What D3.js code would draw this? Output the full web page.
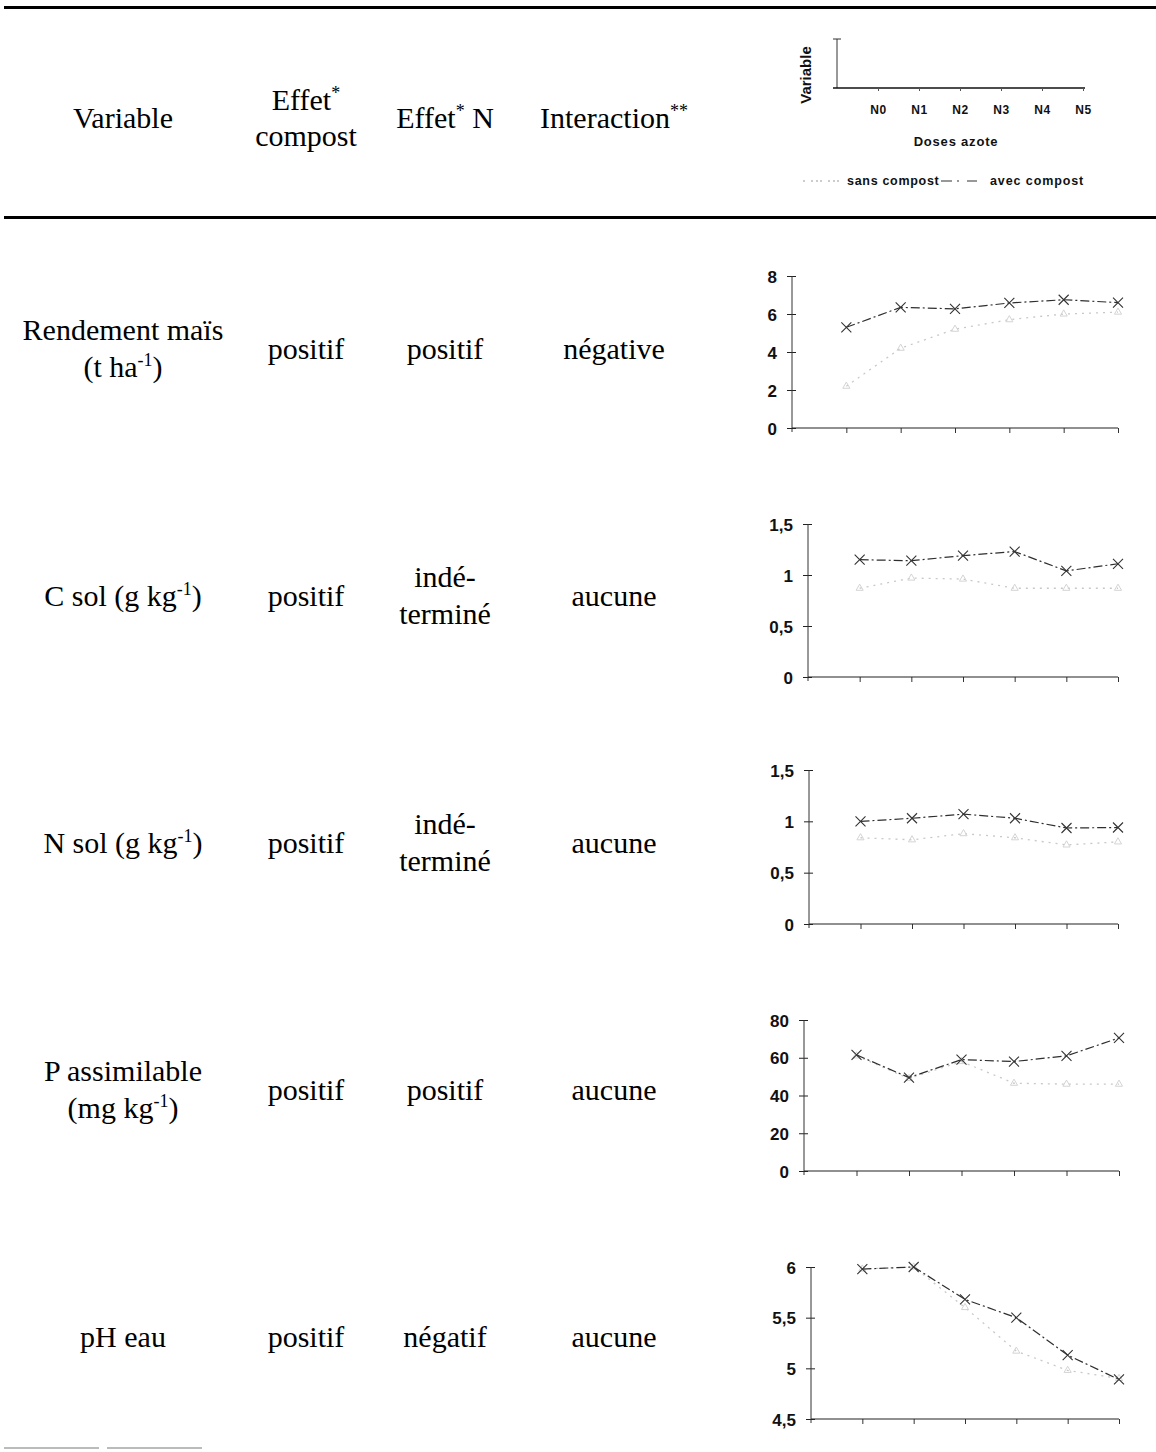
<!DOCTYPE html>
<html>
<head>
<meta charset="utf-8">
<script src="https://cdn.jsdelivr.net/npm/d3@7"></script>
<style>
  html, body { margin: 0; padding: 0; background: #fff; }
  svg { display: block; }
  .serif { font-family: "Liberation Serif", "Times New Roman", serif; fill: #000; }
  .sans { font-family: "Liberation Sans", Arial, sans-serif; font-weight: bold; fill: #111; }
</style>
</head>
<body>
<svg id="chart" width="1156" height="1452"></svg>
<script>
// ---------------- data ----------------
const doses = ["N0", "N1", "N2", "N3", "N4", "N5"];
const headers = ["Variable", "Effet{*}|compost", "Effet{*} N", "Interaction{**}"];
const variables = ["Rendement maïs|(t ha{-1})", "C sol (g kg{-1})", "N sol (g kg{-1})", "P assimilable|(mg kg{-1})", "pH eau"];
const effetCompost = ["positif", "positif", "positif", "positif", "positif"];
const effetN = ["positif", "indé-|terminé", "indé-|terminé", "positif", "négatif"];
const interaction = ["négative", "aucune", "aucune", "aucune", "aucune"];

const avecRendement = [5.3, 6.35, 6.27, 6.58, 6.75, 6.6];
const sansRendement = [2.2, 4.2, 5.2, 5.7, 6.0, 6.1];
const avecCsol = [1.15, 1.14, 1.19, 1.23, 1.04, 1.11];
const sansCsol = [0.87, 0.97, 0.96, 0.87, 0.87, 0.87];
const avecNsol = [1.0, 1.03, 1.07, 1.03, 0.935, 0.94];
const sansNsol = [0.84, 0.82, 0.88, 0.84, 0.77, 0.8];
const avecP = [61.5, 49.5, 59, 58, 61, 70.5];
const sansP = [61, 49, 58, 46.5, 46, 46];
const avecPH = [5.98, 6.0, 5.68, 5.5, 5.13, 4.89];
const sansPH = [5.98, 6.0, 5.6, 5.17, 4.98, 4.9];

const ticksRendement = [0, 2, 4, 6, 8];
const ticksCsol = [0, 0.5, 1, 1.5];
const ticksNsol = [0, 0.5, 1, 1.5];
const ticksP = [0, 20, 40, 60, 80];
const ticksPH = [4.5, 5, 5.5, 6];

const legendLabels = ["sans compost", "avec compost"];
const legendAxisTitle = "Doses azote";
const legendYTitle = "Variable";

// ---------------- layout ----------------
const svg = d3.select("#chart");
svg.append("rect").attr("width", 1156).attr("height", 1452).attr("fill", "#fff");

const colX = [123, 306, 445, 614];
const rowCenters = [350, 597, 844, 1091, 1338];
const FS = 30;
const fmt = v => String(v).replace(".", ",");

function rich(g, str, x, y, size) {
  const t = g.append("text").attr("class", "serif").attr("x", x).attr("y", y)
    .attr("text-anchor", "middle").style("font-size", size + "px");
  const parts = str.split(/(\{[^}]*\})/).filter(p => p.length);
  let shifted = 0;
  parts.forEach(p => {
    if (p.startsWith("{")) {
      t.append("tspan").attr("dy", -size * 0.38).style("font-size", (size * 0.6) + "px").text(p.slice(1, -1));
      shifted = size * 0.38;
    } else {
      const ts = t.append("tspan").text(p);
      if (shifted) { ts.attr("dy", shifted); shifted = 0; }
    }
  });
  return t;
}
function cell(g, str, x, center) {
  const lines = str.split("|");
  if (lines.length === 1) rich(g, lines[0], x, center + 9, FS);
  else { rich(g, lines[0], x, center - 10, FS); rich(g, lines[1], x, center + 27, FS); }
}

// rules
svg.append("line").attr("x1", 4).attr("x2", 1156).attr("y1", 7.5).attr("y2", 7.5).attr("stroke", "#000").attr("stroke-width", 3);
svg.append("line").attr("x1", 4).attr("x2", 1156).attr("y1", 217.5).attr("y2", 217.5).attr("stroke", "#000").attr("stroke-width", 3);
svg.append("line").attr("x1", 4).attr("x2", 210).attr("y1", 1448).attr("y2", 1448).attr("stroke", "#bbb").attr("stroke-width", 2).attr("stroke-dasharray", "95,8");

// header
const hg = svg.append("g");
headers.forEach((h, i) => {
  const lines = h.split("|");
  if (lines.length === 1) rich(hg, lines[0], colX[i], 128, FS);
  else { rich(hg, lines[0], colX[i], 110, FS); rich(hg, lines[1], colX[i], 146, FS); }
});

// rows
const tg = svg.append("g");
variables.forEach((v, i) => {
  cell(tg, v, colX[0], rowCenters[i]);
  cell(tg, effetCompost[i], colX[1], rowCenters[i]);
  cell(tg, effetN[i], colX[2], rowCenters[i]);
  cell(tg, interaction[i], colX[3], rowCenters[i]);
});

// ---------------- small charts ----------------
const AVEC_COL = "#2e2e2e", SANS_COL = "#c8c8c8";
const xMarker = "M-5,-5L5,5M-5,5L5,-5";
const triMarker = d3.symbol().type(d3.symbolTriangle).size(22)();

function drawChart(L, avec, sans, ticks) {
  const g = svg.append("g");
  const x = d3.scalePoint().domain(["", ...doses]).range([L.x0, L.x1]);
  const y = d3.scaleLinear().domain([ticks[0], ticks[ticks.length - 1]]).range([L.yb, L.yt]);

  const yAx = g.append("g").attr("transform", `translate(${L.x0},0)`)
    .call(d3.axisLeft(y).tickValues(ticks).tickSize(5).tickFormat(fmt));
  yAx.select(".domain").remove();
  yAx.selectAll(".tick line").attr("x1", 4).attr("x2", -5).attr("stroke", "#222");
  yAx.selectAll(".tick text").attr("x", -15).attr("class", "sans").style("font-size", "17px").attr("dy", "0.36em");
  g.append("line").attr("x1", L.x0).attr("x2", L.x0).attr("y1", L.yt).attr("y2", L.yb + 4)
    .attr("stroke", "#333").attr("stroke-width", 1);

  const xAx = g.append("g").attr("transform", `translate(0,${L.yb})`)
    .call(d3.axisBottom(x).tickValues(doses).tickSize(5).tickFormat(""));
  xAx.select(".domain").remove();
  xAx.selectAll(".tick line").attr("stroke", "#333");
  g.append("line").attr("x1", L.x0).attr("x2", L.x1).attr("y1", L.yb).attr("y2", L.yb)
    .attr("stroke", "#222").attr("stroke-width", 1.2);

  const line = d3.line().x((d, i) => x(doses[i])).y(d => y(d));
  g.append("path").datum(sans).attr("d", line).attr("fill", "none")
    .attr("stroke", SANS_COL).attr("stroke-width", 1.3).attr("stroke-dasharray", "2,5");
  g.selectAll(".sm").data(sans).join("path").attr("d", triMarker)
    .attr("transform", (d, i) => `translate(${x(doses[i])},${y(d)})`)
    .attr("fill", "none").attr("stroke", "#d4d4d4").attr("stroke-width", 1);

  g.append("path").datum(avec).attr("d", line).attr("fill", "none")
    .attr("stroke", AVEC_COL).attr("stroke-width", 1.2).attr("stroke-dasharray", "9,3,2,3");
  g.selectAll(".am").data(avec).join("path").attr("d", xMarker)
    .attr("transform", (d, i) => `translate(${x(doses[i])},${y(d)})`)
    .attr("fill", "none").attr("stroke", "#333").attr("stroke-width", 1.1);
}

const chartLayouts = [
  { x0: 792, x1: 1118, yb: 428, yt: 276 },
  { x0: 808, x1: 1118, yb: 677, yt: 524 },
  { x0: 809, x1: 1118, yb: 924, yt: 770 },
  { x0: 804, x1: 1119, yb: 1171, yt: 1020 },
  { x0: 811, x1: 1119, yb: 1419, yt: 1267 }
];
drawChart(chartLayouts[0], avecRendement, sansRendement, ticksRendement);
drawChart(chartLayouts[1], avecCsol, sansCsol, ticksCsol);
drawChart(chartLayouts[2], avecNsol, sansNsol, ticksNsol);
drawChart(chartLayouts[3], avecP, sansP, ticksP);
drawChart(chartLayouts[4], avecPH, sansPH, ticksPH);

// ---------------- header legend chart ----------------
(function () {
  const g = svg.append("g");
  const x = d3.scalePoint().domain(["", ...doses]).range([837, 1083]);
  const y = d3.scaleLinear().domain([0, 1]).range([88, 39]);
  g.append("line").attr("x1", 837).attr("x2", 837).attr("y1", y(1)).attr("y2", y(0))
    .attr("stroke", "#333").attr("stroke-width", 1);
  g.append("line").attr("x1", 833).attr("x2", 841).attr("y1", y(1)).attr("y2", y(1)).attr("stroke", "#333");
  g.append("line").attr("x1", 833).attr("x2", 1085).attr("y1", y(0)).attr("y2", y(0))
    .attr("stroke", "#111").attr("stroke-width", 1.6);
  const xAx = g.append("g").attr("transform", `translate(0,${y(0)})`)
    .call(d3.axisBottom(x).tickValues(doses).tickSize(3).tickPadding(14));
  xAx.select(".domain").remove();
  xAx.selectAll(".tick line").attr("stroke", "#555");
  xAx.selectAll(".tick text").attr("class", "sans").style("font-size", "12px")
    .style("letter-spacing", "0.5px").attr("fill", "#111");

  g.append("text").attr("class", "sans").attr("x", 956).attr("y", 146).attr("text-anchor", "middle")
    .style("font-size", "13px").style("letter-spacing", "0.8px").text(legendAxisTitle);
  g.append("text").attr("class", "sans").attr("transform", "translate(811,75) rotate(-90)")
    .attr("text-anchor", "middle").style("font-size", "15px").text(legendYTitle);

  const ly = 185;
  g.append("line").attr("x1", 803).attr("x2", 845).attr("y1", ly - 4).attr("y2", ly - 4)
    .attr("stroke", "#999").attr("stroke-width", 1.2).attr("stroke-dasharray", "2,6,2,3,2,2");
  g.append("text").attr("class", "sans").attr("x", 847).attr("y", ly).style("font-size", "12.5px")
    .style("letter-spacing", "0.7px").text(legendLabels[0]);
  g.append("line").attr("x1", 941).attr("x2", 988).attr("y1", ly - 4).attr("y2", ly - 4)
    .attr("stroke", "#333").attr("stroke-width", 1.2).attr("stroke-dasharray", "11,5,2,8,10");
  g.append("text").attr("class", "sans").attr("x", 990).attr("y", ly).style("font-size", "12.5px")
    .style("letter-spacing", "0.9px").text(legendLabels[1]);
})();
</script>
</body>
</html>
